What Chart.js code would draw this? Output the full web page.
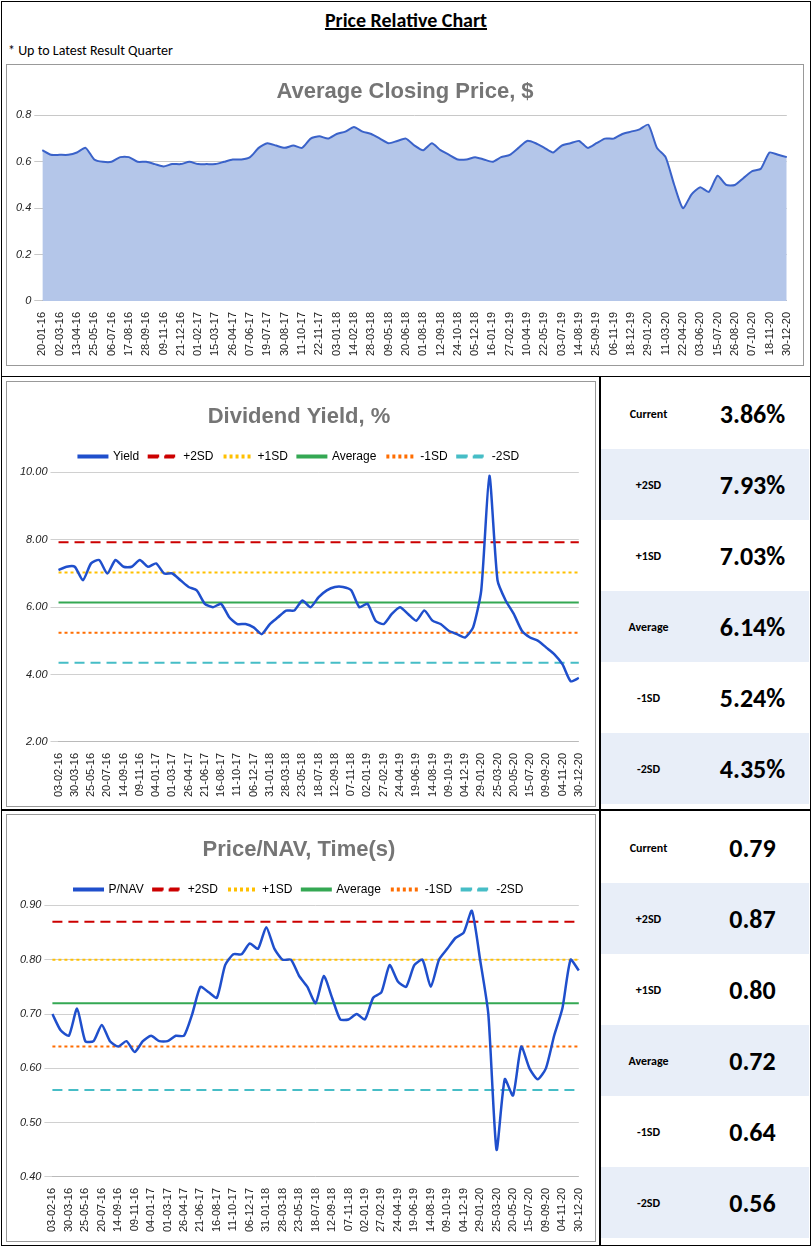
<!DOCTYPE html>
<html>
<head>
<meta charset="utf-8">
<script src="https://cdn.jsdelivr.net/npm/chart.js@4.4.0/dist/chart.umd.min.js"></script>
<style>
  body { margin: 0; background: #fff; font-family: Calibri, "Liberation Sans", Arial, sans-serif; }
  #page { position: absolute; left: 1px; top: 1px; width: 808px; height: 1243px; border: 1px solid #000; }
  #title { position: absolute; left: 0; width: 808px; top: 6px; text-align: center; font-weight: bold; font-size: 20px; text-decoration: underline; }
  #note { position: absolute; left: 6px; top: 40px; font-size: 14px; }
  .box { position: absolute; border: 1px solid #999; background: #fff; }
  .cell { position: absolute; border: 1px solid #000; }
  table { position: absolute; border-collapse: collapse; }
  td { height: 71px; font-weight: bold; padding: 0; }
  td.lab { width: 95px; font-size: 12px; text-align: center; }
  td.val { width: 113px; font-size: 26px; text-align: center; }
  tr.alt td { background: #e8eef8; }
</style>
</head>
<body>
<div id="page">
  <div id="title">Price Relative Chart</div>
  <div id="note">* Up to Latest Result Quarter</div>
  <div class="box" style="left:4px;top:62px;width:796px;height:300px;"><canvas id="priceChart"></canvas></div>
  <div class="cell" style="left:-1px;top:374px;width:598px;height:433px;"></div>
  <div class="box" style="left:4px;top:379px;width:588px;height:424px;"><canvas id="yieldChart"></canvas></div>
  <div class="cell" style="left:597px;top:374px;width:210px;height:433px;"></div>
  <table id="yieldTable" style="left:599px;top:376px;"></table>
  <div class="cell" style="left:-1px;top:807px;width:598px;height:435px;"></div>
  <div class="box" style="left:4px;top:812px;width:588px;height:426px;"><canvas id="navChart"></canvas></div>
  <div class="cell" style="left:597px;top:807px;width:210px;height:435px;"></div>
  <table id="navTable" style="left:599px;top:810px;"></table>
</div>
<script>
const priceTicks = ['20-01-16','02-03-16','13-04-16','25-05-16','06-07-16','17-08-16','28-09-16','09-11-16','21-12-16','01-02-17','15-03-17','26-04-17','07-06-17','19-07-17','30-08-17','11-10-17','22-11-17','03-01-18','14-02-18','28-03-18','09-05-18','20-06-18','01-08-18','12-09-18','24-10-18','05-12-18','16-01-19','27-02-19','10-04-19','22-05-19','03-07-19','14-08-19','25-09-19','06-11-19','18-12-19','29-01-20','11-03-20','22-04-20','03-06-20','15-07-20','26-08-20','07-10-20','18-11-20','30-12-20'];
// two readings per tick interval (on the tick, then halfway to the next)
const priceValues = [0.65,0.63, 0.63,0.63, 0.64,0.66, 0.61,0.60, 0.60,0.62, 0.62,0.60, 0.60,0.59, 0.58,0.59, 0.59,0.60, 0.59,0.59,
  0.59,0.60, 0.61,0.61, 0.62,0.66, 0.68,0.67, 0.66,0.67, 0.66,0.70, 0.71,0.70, 0.72,0.73, 0.75,0.73, 0.72,0.70,
  0.68,0.69, 0.70,0.67, 0.65,0.68, 0.65,0.63, 0.61,0.61, 0.62,0.61, 0.60,0.62, 0.63,0.66, 0.69,0.68, 0.66,0.64,
  0.67,0.68, 0.69,0.66, 0.68,0.70, 0.70,0.72, 0.73,0.74, 0.76,0.66, 0.62,0.50, 0.40,0.46, 0.49,0.47, 0.54,0.50,
  0.50,0.53, 0.56,0.57, 0.64,0.63, 0.62];

const bandTicks = ['03-02-16','30-03-16','25-05-16','20-07-16','14-09-16','09-11-16','04-01-17','01-03-17','26-04-17','21-06-17','16-08-17','11-10-17','06-12-17','31-01-18','28-03-18','23-05-18','18-07-18','12-09-18','07-11-18','02-01-19','27-02-19','24-04-19','19-06-19','14-08-19','09-10-19','04-12-19','29-01-20','25-03-20','20-05-20','15-07-20','09-09-20','04-11-20','30-12-20'];
const yieldValues = [7.1,7.2, 7.2,6.8, 7.3,7.4, 7.0,7.4, 7.2,7.2, 7.4,7.2, 7.3,7.0, 7.0,6.8, 6.6,6.5, 6.1,6.0,
  6.1,5.7, 5.5,5.5, 5.4,5.2, 5.5,5.7, 5.9,5.9, 6.2,6.0, 6.3,6.5, 6.6,6.6, 6.5,6.0, 6.1,5.6,
  5.5,5.8, 6.0,5.8, 5.6,5.9, 5.6,5.5, 5.3,5.2, 5.1,5.4, 6.5,9.9, 6.8,6.2, 5.8,5.3, 5.1,5.0,
  4.8,4.6, 4.3,3.8, 3.9];
const navValues = [0.70,0.67, 0.66,0.71, 0.65,0.65, 0.68,0.65, 0.64,0.65, 0.63,0.65, 0.66,0.65, 0.65,0.66, 0.66,0.70, 0.75,0.74,
  0.73,0.79, 0.81,0.81, 0.83,0.82, 0.86,0.82, 0.80,0.80, 0.77,0.75, 0.72,0.77, 0.73,0.69, 0.69,0.70, 0.69,0.73,
  0.74,0.79, 0.76,0.75, 0.79,0.80, 0.75,0.80, 0.82,0.84, 0.85,0.89, 0.80,0.70, 0.45,0.58, 0.55,0.64, 0.60,0.58,
  0.60,0.66, 0.71,0.80, 0.78];

const bandNames = ['+2SD','+1SD','Average','-1SD','-2SD'];
const yieldBands = [7.93, 7.03, 6.14, 5.24, 4.35];
const yieldCurrent = 3.86;
const navBands = [0.87, 0.80, 0.72, 0.64, 0.56];
const navCurrent = 0.79;

const bandColors = ['#cc0000','#ffc000','#34a853','#ff6d01','#46bdc6'];
const bandDash = [[10,6],[3,3],[],[3,3],[10,6]];
const tickFont = { family: 'Arial, "Liberation Sans"', size: 11 };

// category labels: a date on every tick, blank on the halfway readings
const makeLabels = (ticks, n) => Array.from({ length: n }, (_, i) => i % 2 ? '' : ticks[i / 2]);
const xAxis = {
  grid: { display: false },
  ticks: { autoSkip: false, maxRotation: 90, minRotation: 90, font: tickFont, color: '#222' }
};

new Chart(document.getElementById('priceChart'), {
  type: 'line',
  data: { labels: makeLabels(priceTicks, priceValues.length),
    datasets: [{ data: priceValues, borderColor: '#3a62c9', borderWidth: 2,
    backgroundColor: '#b4c6e9', fill: 'origin', pointRadius: 0, tension: 0.2 }] },
  options: {
    animation: false, responsive: true, maintainAspectRatio: false,
    layout: { padding: { left: 6, right: 6, top: 4, bottom: 6 } },
    plugins: { legend: { display: false },
      title: { display: true, text: 'Average Closing Price, $', color: '#757575', font: { size: 22, weight: 'bold' }, padding: { top: 10, bottom: 10 } } },
    scales: {
      x: xAxis,
      y: { min: 0, max: 0.8, ticks: { stepSize: 0.2, font: { ...tickFont, style: 'italic' }, color: '#222' }, grid: { color: '#c8c8c8' }, border: { display: false } }
    }
  }
});

const bandChart = (id, title, mainLabel, values, bands, yMin, yMax, step) => {
  const datasets = [{ label: mainLabel, data: values, borderColor: '#1f4fcc', borderWidth: 2.5, pointRadius: 0, tension: 0.2 }];
  bands.forEach((b, k) => datasets.push({
    label: bandNames[k], data: values.map(() => b),
    borderColor: bandColors[k], borderDash: bandDash[k], borderWidth: 2, pointRadius: 0
  }));
  new Chart(document.getElementById(id), {
    type: 'line',
    data: { labels: makeLabels(bandTicks, values.length), datasets },
    options: {
      animation: false, responsive: true, maintainAspectRatio: false,
      layout: { padding: { left: 10, right: 14, top: 4, bottom: 6 } },
      plugins: {
        title: { display: true, text: title, color: '#757575', font: { size: 22, weight: 'bold' }, padding: { top: 18, bottom: 10 } },
        legend: { labels: { font: { family: 'Arial, "Liberation Sans"', size: 12 }, color: '#222', boxWidth: 28, boxHeight: 1,
          generateLabels: chart => chart.data.datasets.map((d, i) => ({
            text: d.label, fillStyle: 'transparent', strokeStyle: d.borderColor, lineWidth: 3,
            lineDash: d.borderDash || [], datasetIndex: i })) } }
      },
      scales: {
        x: xAxis,
        y: { min: yMin, max: yMax, ticks: { stepSize: step, font: { ...tickFont, style: 'italic' }, color: '#222', callback: v => v.toFixed(2) },
          grid: { color: '#d0d0d0' }, border: { display: false } }
      }
    }
  });
};

bandChart('yieldChart', 'Dividend Yield, %', 'Yield', yieldValues, yieldBands, 2, 10, 2);
bandChart('navChart', 'Price/NAV, Time(s)', 'P/NAV', navValues, navBands, 0.4, 0.9, 0.1);

const fillTable = (id, current, bands, fmt) => {
  const rows = [['Current', current]].concat(bands.map((b, k) => [bandNames[k], b]));
  document.getElementById(id).innerHTML = rows.map((r, i) =>
    `<tr class="${i % 2 ? 'alt' : ''}"><td class="lab">${r[0]}</td><td class="val">${fmt(r[1])}</td></tr>`).join('');
};
fillTable('yieldTable', yieldCurrent, yieldBands, v => v.toFixed(2) + '%');
fillTable('navTable', navCurrent, navBands, v => v.toFixed(2));
</script>
</body>
</html>
